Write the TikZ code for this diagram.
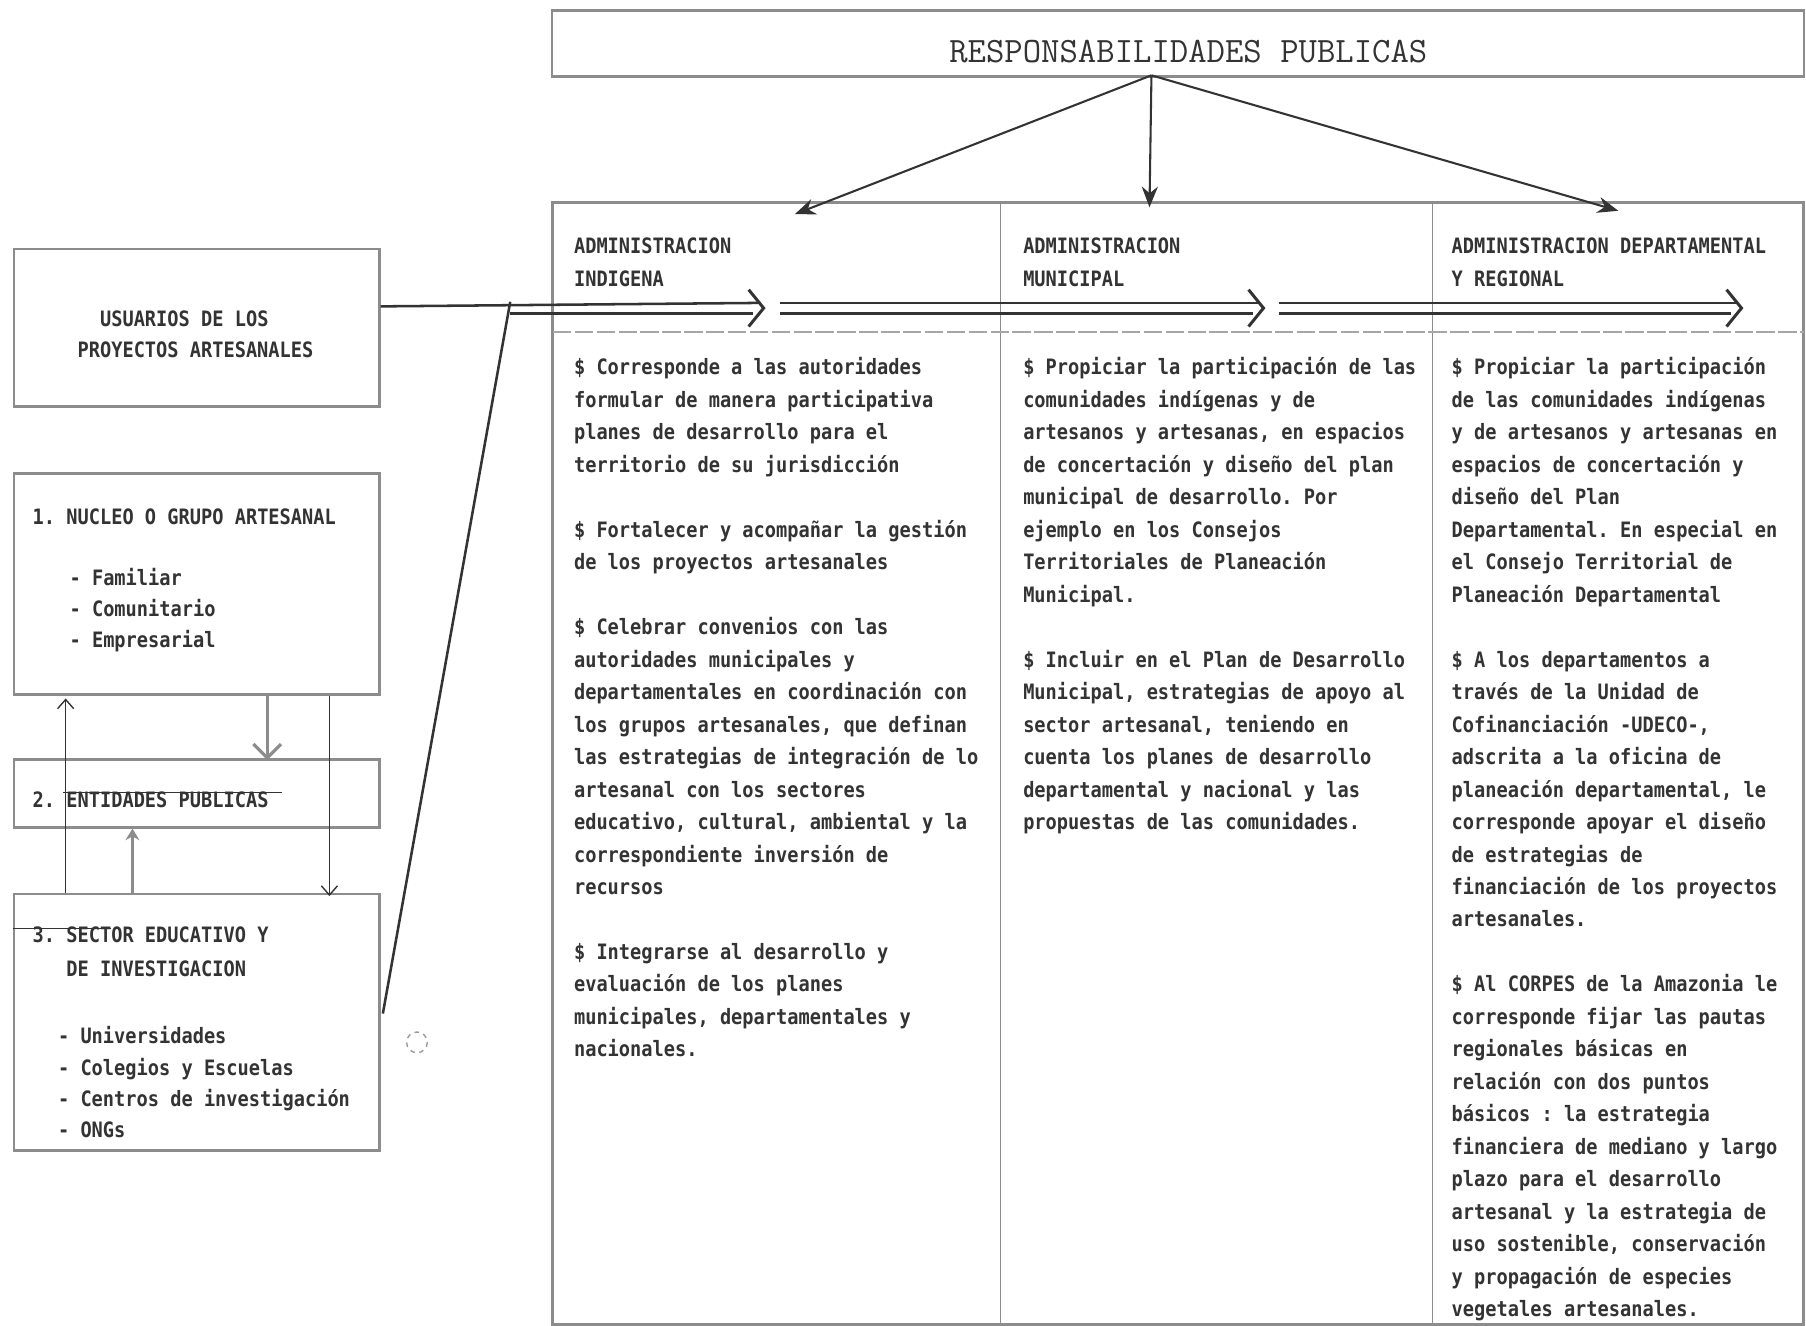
\documentclass[tikz,border=0pt]{standalone}
\usepackage{fontspec}
\usetikzlibrary{calc,arrows.meta}
\newfontfamily\dmono{DejaVu Sans Mono}[FakeStretch=0.88]
\definecolor{ink}{gray}{0.2}
\definecolor{frm}{gray}{0.55}
\definecolor{arrgray}{gray}{0.55}
\newcommand\topst{\rule{0pt}{12pt}}
\frenchspacing
\tikzset{
  txt/.style={inner sep=0pt, anchor=north west, align=left, text=ink,
    font=\dmono\bfseries\frenchspacing\fontsize{9.2}{14.1}\selectfont},
  ltxt/.style={txt, font=\dmono\bfseries\frenchspacing\fontsize{9.2}{13.5}\selectfont},
  box/.style={draw=frm, line width=1.2pt, inner sep=0pt, anchor=north west},
  colbox/.style={draw=frm, line width=0.6pt, inner sep=0pt, anchor=north west},
  tarr/.style={draw=ink, line width=0.9pt, -{Stealth[length=9pt,width=7pt]}},
  darr/.style={draw=ink, line width=0.6pt, -{Straight Barb[length=4pt,width=7pt]}},
  garr/.style={draw=arrgray, line width=1.4pt, -{Straight Barb[length=6pt,width=12pt]}},
  garrb/.style={draw=arrgray, line width=1.4pt, -{Stealth[length=5pt,width=6pt]}},
  dline/.style={draw=ink, line width=1.1pt},
  chev/.style={draw=ink, line width=1.3pt, line join=miter},
  thinln/.style={draw=ink, line width=0.7pt},
}
\begin{document}
\begin{tikzpicture}[x=0.5pt, y=-0.5pt]
\useasboundingbox (0,0) rectangle (1568,1151);
\fill[white] (0,0) rectangle (1568,1151);

% ---------------- title ----------------
\node[box, minimum width=543.5pt, minimum height=28.5pt] (title) at (478,8) {};
\node[font=\ttfamily\fontsize{15.5}{18}\selectfont, text=ink, inner sep=0pt]
  (ttl) at ($(title.center)+(9,7)$) {RESPONSABILIDADES PUBLICAS};
\coordinate (ts) at ($(title.south)+(-23,-2)$);

% ---------------- columns ----------------
\node[colbox, minimum width=194pt, minimum height=486.5pt] (col1) at (480,176) {};
\node[colbox, minimum width=187.5pt, minimum height=486.5pt] (col2) at (868,176) {};
\node[colbox, minimum width=161pt, minimum height=486.5pt] (col3) at (1243,176) {};
\draw[frm, line width=1.3pt] (col1.north west) rectangle (col3.south east);
\draw[black!35, line width=0.7pt, dash pattern=on 8pt off 1.5pt]
  ($(col1.north west)+(0,112)$) -- ($(col3.north east)+(0,112)$);

% arrows from title
\coordinate (t1) at ($(col1.north west)+(210,10)$);
\coordinate (t2) at ($(col2.north west)+(130,4)$);
\coordinate (t3) at ($(col3.north west)+(162,7)$);
\draw[tarr] (ts) -- (t1);
\draw[tarr] (ts) -- (t2);
\draw[tarr] (ts) -- (t3);

% headers
\node[txt] (h1) at (498,196) {\topst ADMINISTRACION\\INDIGENA};
\node[txt] (h2) at (888,196) {\topst ADMINISTRACION\\MUNICIPAL};
\node[txt] (h3) at (1260,196) {\topst ADMINISTRACION DEPARTAMENTAL\\Y REGIONAL};

% column texts
\node[txt] (c1) at (498,301) {\topst\$ Corresponde a las autoridades\\
formular de manera participativa\\
planes de desarrollo para el\\
territorio de su jurisdicción\\[14.1pt]
\$ Fortalecer y acompañar la gestión\\
de los proyectos artesanales\\[14.1pt]
\$ Celebrar convenios con las\\
autoridades municipales y\\
departamentales en coordinación con\\
los grupos artesanales, que definan\\
las estrategias de integración de lo\\
artesanal con los sectores\\
educativo, cultural, ambiental y la\\
correspondiente inversión de\\
recursos\\[14.1pt]
\$ Integrarse al desarrollo y\\
evaluación de los planes\\
municipales, departamentales y\\
nacionales.};

\node[txt] (c2) at (888,301) {\topst\$ Propiciar la participación de las\\
comunidades indígenas y de\\
artesanos y artesanas, en espacios\\
de concertación y diseño del plan\\
municipal de desarrollo. Por\\
ejemplo en los Consejos\\
Territoriales de Planeación\\
Municipal.\\[14.1pt]
\$ Incluir en el Plan de Desarrollo\\
Municipal, estrategias de apoyo al\\
sector artesanal, teniendo en\\
cuenta los planes de desarrollo\\
departamental y nacional y las\\
propuestas de las comunidades.};

\node[txt] (c3) at (1260,301) {\topst\$ Propiciar la participación\\
de las comunidades indígenas\\
y de artesanos y artesanas en\\
espacios de concertación y\\
diseño del Plan\\
Departamental. En especial en\\
el Consejo Territorial de\\
Planeación Departamental\\[14.1pt]
\$ A los departamentos a\\
través de la Unidad de\\
Cofinanciación -UDECO-,\\
adscrita a la oficina de\\
planeación departamental, le\\
corresponde apoyar el diseño\\
de estrategias de\\
financiación de los proyectos\\
artesanales.\\[14.1pt]
\$ Al CORPES de la Amazonia le\\
corresponde fijar las pautas\\
regionales básicas en\\
relación con dos puntos\\
básicos : la estrategia\\
financiera de mediano y largo\\
plazo para el desarrollo\\
artesanal y la estrategia de\\
uso sostenible, conservación\\
y propagación de especies\\
vegetales artesanales.};

% ---------------- left boxes ----------------
\node[box, minimum width=158.5pt, minimum height=68.5pt] (usu) at (11,215) {};
\node[ltxt] (usut) at (67,259) {\topst\phantom{PR}USUARIOS DE LOS\\PROYECTOS ARTESANALES};

\node[box, minimum width=158.5pt, minimum height=96pt] (b1) at (11,410) {};
\node[ltxt] (b1t) at (28,431) {\topst 1. NUCLEO O GRUPO ARTESANAL};
\node[ltxt] (b1l) at (60,484) {\topst - Familiar\\- Comunitario\\- Empresarial};

\node[box, minimum width=158.5pt, minimum height=29.5pt] (b2) at (11,658) {};
\node[ltxt] (b2t) at (28,677) {\topst 2. ENTIDADES PUBLICAS};

\node[box, minimum width=158.5pt, minimum height=111.5pt] (b3) at (11,775) {};
\node[txt, font=\dmono\bfseries\frenchspacing\fontsize{9.2}{14.5}\selectfont] (b3t) at (28,794)
  {\topst 3. SECTOR EDUCATIVO Y\\\phantom{3. }DE INVESTIGACION};
\node[ltxt] (b3l) at (50,882) {\topst - Universidades\\- Colegios y Escuelas\\- Centros de investigación\\- ONGs};

% left arrows
\draw[darr] ($(b3.north west)+(46,0)$) -- ($(b1.south west)+(46,2)$);
\draw[garr] ($(b1.south west)+(221,0)$) -- ($(b2.north west)+(221,2)$);
\draw[garrb] ($(b3.north west)+(104,0)$) -- ($(b2.south west)+(104,0)$);
\draw[darr] ($(b1.south west)+(275,0)$) -- ($(b3.north west)+(275,3)$);
\draw[thinln] ($(b2.north west)+(44,30)$) -- ($(b2.north west)+(234,30)$);
\draw[thinln] ($(b3.north west)+(0,31)$) -- ($(b3.north west)+(85,31)$);

% ---------------- double arrows ----------------
\coordinate (u0) at ($(usu.north east)+(0,51)$);
\coordinate (j) at (443,272);
\coordinate (jt) at (443,262);
\coordinate (d3) at ($(b3.north east)+(2,105)$);
\draw[dline] (d3) -- (jt);

\coordinate (a1u) at (658,263);
\coordinate (a1l) at (654,272);
\coordinate (a1t) at (663,267.5);
\draw[dline] (u0) -- (a1u);
\draw[dline] (j) -- (a1l);
\draw[chev] ($(a1t)+(-13,-16)$) -- (a1t) -- ($(a1t)+(-13,16)$);

\coordinate (a2s) at (677,263);
\coordinate (a2u) at (1092,263);
\coordinate (a2l) at (1088,272);
\coordinate (a2t) at (1097,267.5);
\draw[dline] (a2s) -- (a2u);
\draw[dline] ($(a2s)+(0,9)$) -- (a2l);
\draw[chev] ($(a2t)+(-13,-16)$) -- (a2t) -- ($(a2t)+(-13,16)$);

\coordinate (a3s) at (1110,263);
\coordinate (a3u) at (1507,263);
\coordinate (a3l) at (1503,272);
\coordinate (a3t) at (1512,267.5);
\draw[dline] (a3s) -- (a3u);
\draw[dline] ($(a3s)+(0,9)$) -- (a3l);
\draw[chev] ($(a3t)+(-13,-16)$) -- (a3t) -- ($(a3t)+(-13,16)$);

% small dashed circle mark
\draw[black!40, line width=0.6pt, dash pattern=on 2pt off 2pt] (362,905) circle[radius=9];
\end{tikzpicture}
\end{document}
